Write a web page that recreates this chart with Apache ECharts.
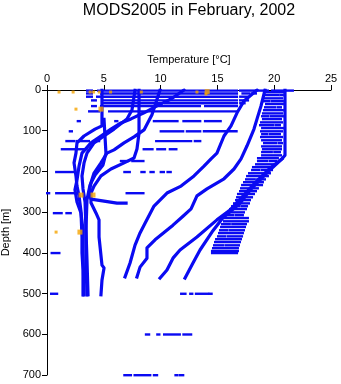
<!DOCTYPE html>
<html>
<head>
<meta charset="utf-8">
<script src="https://cdn.jsdelivr.net/npm/echarts@6/dist/echarts.min.js"></script>
<style>
  html, body { margin: 0; padding: 0; background: #fff; }
  #chart { width: 341px; height: 384px; }
</style>
</head>
<body>
<div id="chart"></div>
<script>
// Axis ticks
const tempTicks = [0, 5, 10, 15, 20, 25];
const depthTicks = [0, 100, 200, 300, 400, 500, 600, 700];

// Continuous profiles: [temperature °C, depth m]
const profileWarmA = [[20.95,0],[20.95,160],[20.69,169],[19.63,192],[18.31,228],[17.17,263],[16.11,295],[14.96,319],[13.20,361],[11.71,393],[11.09,413],[10.56,442],[9.95,462]];
const profileWarmB = [[20.69,169],[19.45,201],[17.87,246],[16.99,278],[15.49,314],[14.52,349],[13.47,393],[12.85,425],[12.15,462]];
const profileMidA = [[18.49,0],[17.34,27],[16.73,56],[16.20,88],[15.58,113],[14.96,155],[14.44,169],[13.82,187],[12.94,211],[11.80,236],[10.56,253],[9.42,285],[8.63,327],[8.19,351],[7.75,381],[7.31,425],[6.87,459]];
const profileMidB = [[19.19,0],[18.84,39],[18.49,71],[18.22,96],[17.61,137],[17.08,169],[16.46,194],[15.58,218],[14.08,243],[13.20,260],[12.68,292],[11.97,310],[11.09,332],[9.51,368],[8.80,388],[8.80,413],[8.19,435],[7.92,459]];
const profileCold1 = [[4.84,0],[4.84,88],[4.23,96],[3.26,113],[2.64,130],[2.55,155],[2.38,179],[2.55,211],[2.64,236],[2.82,260],[2.99,297],[3.08,361],[3.08,400],[3.17,442],[3.17,503]];
const profileCold2 = [[12.06,0],[10.92,22],[9.68,39],[8.54,56],[7.39,71],[6.51,81],[5.63,96],[4.75,113],[3.87,130],[3.08,155],[2.82,187],[2.64,221],[2.46,245],[2.64,275],[2.99,302],[3.17,344],[3.17,400],[3.26,503]];
const profileCold3 = [[7.75,0],[7.48,49],[7.04,71],[5.90,96],[5.02,113],[4.14,130],[3.52,155],[3.26,179],[3.08,211],[3.17,243],[3.35,275],[3.43,344],[3.43,418],[3.52,503]];
const profileCold4 = [[9.95,0],[9.24,61],[8.54,98],[7.66,115],[6.78,130],[5.90,147],[5.28,155],[4.75,179],[4.14,204],[3.87,228],[3.70,253],[3.87,268],[5.02,273],[6.16,278],[6.96,278]];
const profileCold5 = [[8.10,0],[8.10,106],[7.92,145],[7.66,167],[6.78,179],[5.63,194],[4.75,211],[4.14,236],[3.87,253],[3.87,277],[4.31,302],[4.58,319],[4.58,361],[4.84,430],[5.02,437],[4.84,467],[4.75,503]];
const profileCold6 = [[5.02,72],[5.19,155],[4.93,184],[4.23,209],[3.79,233],[3.52,270],[3.43,344],[3.52,418],[3.61,503]];

// Sparse casts drawn as dashes: [depth m, from °C, to °C]
const warmBandRows = [
  [5,19.10,20.86],[12,19.28,20.40],[12,20.55,20.77],[20,19.19,20.69],[27,19.01,19.60],[27,19.80,20.77],[34,19.28,20.77],
  [42,19.19,20.10],[42,20.30,20.60],[49,19.10,20.77],[57,19.01,20.69],[64,18.93,19.50],[64,19.70,20.77],[71,19.01,20.60],
  [79,18.84,20.69],[86,18.75,19.90],[86,20.10,20.51],[93,18.93,20.77],[101,18.84,20.69],[108,18.93,19.40],[108,19.60,20.51],
  [115,18.84,20.69],[123,18.93,20.60],[130,19.10,20.20],[130,20.40,20.69],[138,18.93,20.60],[145,19.01,20.60],
  [152,18.93,19.80],[152,20.00,20.51],[160,18.93,20.60],[167,18.57,20.33],[174,18.57,19.40],[174,19.60,20.16],[182,18.40,20.07],
  [189,18.13,19.81],[196,18.05,18.70],[196,18.90,19.81],[204,17.78,19.63],[211,17.61,19.45],[219,17.52,18.30],[219,18.50,19.19],
  [226,17.34,19.01],[233,17.17,18.93],[241,17.08,17.80],[241,18.00,18.57],[248,16.99,18.40],[255,16.81,18.22],
  [263,16.73,17.30],[263,17.50,18.05],[270,16.64,17.87],[278,16.46,17.78],[285,16.29,16.90],[285,17.10,17.61],[292,16.11,17.52],
  [300,15.93,17.34],[307,15.76,16.40],[307,16.60,17.25],[314,15.67,17.69],[322,15.58,17.69],[329,15.40,16.10],[329,16.30,17.52],
  [336,15.32,17.43],[344,15.23,15.90],[344,16.10,17.34],[351,15.14,17.25],[359,15.05,15.70],[359,15.90,17.17],[366,14.88,17.08],
  [373,14.79,16.99],[381,14.70,15.50],[381,15.70,16.90],[388,14.61,16.81],[395,14.52,16.81],[400,14.52,16.73]
];
const surveyRows = [
  [1,3.52,3.96],[1,4.49,16.73],[1,16.99,19.45],[1,19.81,21.65],
  [8,3.52,3.96],[8,4.75,16.73],[8,17.20,17.80],[8,18.00,18.40],
  [16,3.52,3.96],[16,4.40,4.67],[16,5.02,16.73],[16,17.00,17.60],
  [25,3.96,4.31],[25,5.02,16.73],[25,16.99,17.70],
  [32,5.02,9.95],[32,10.39,16.73],[32,17.00,17.40],
  [39,3.96,4.31],[39,4.75,13.47],[39,13.91,16.73],
  [52,3.70,4.58],[52,5.46,16.73],
  [76,2.70,2.90],[76,6.00,6.20],[76,9.40,11.50],[76,12.00,13.50],[76,13.90,15.30],
  [101,2.00,2.20],[101,10.00,12.00],[101,12.30,13.50],[101,13.80,16.70],
  [125,1.70,2.40],[125,2.60,3.70],[125,4.10,4.60],[125,9.60,12.70],[125,13.00,13.50],
  [145,1.30,3.50],[145,8.50,9.30],[145,9.70,10.40],[145,10.80,11.40],
  [174,6.50,7.10],[174,7.50,8.50],
  [201,0.80,2.40],[201,6.80,7.30],[201,8.30,8.60],[201,9.10,9.40],[201,10.00,10.30],[201,10.60,10.90],
  [253,0.00,0.20],[253,0.80,2.60],[253,7.00,8.50],
  [302,0.60,1.30],[302,1.70,2.10],
  [400,0.40,1.10],
  [500,0.35,0.90],[500,11.80,12.20],[500,12.60,12.80],[500,13.10,14.20],[500,14.30,14.50],
  [600,8.70,9.00],[600,9.70,9.90],[600,10.30,11.70],[600,12.00,12.70],
  [700,6.80,7.40],[700,7.70,9.10],[700,9.40,9.70],[700,11.30,11.50],[700,11.70,12.00]
];

// Flagged observations: [temperature °C, depth m]
const flaggedSmall = [[1.06,5],[2.3,5],[3.8,5],[4.1,5],[4.6,5],[5.6,5],[8.3,5],[2.55,47],[13.2,5],[14.0,10],[0.8,349]];
const flaggedLarge = [[4.75,47],[14.1,4],[3.0,258],[4.05,258],[2.9,349]];

const BLUE = '#0a0af2';
const ORANGE = '#f5a400';
const FONT = 'Liberation Sans, Arial, sans-serif';

function dashItem(params, api) {
  const a = api.coord([api.value(1), api.value(0)]);
  const b = api.coord([api.value(2), api.value(0)]);
  return {
    type: 'rect',
    shape: { x: a[0] - 1, y: a[1] - 1, width: Math.max(b[0] - a[0], 1) + 2, height: 2.4 },
    style: { fill: BLUE }
  };
}

function profileSeries(data) {
  return {
    type: 'line', data: data, showSymbol: false, symbol: 'none',
    lineStyle: { color: BLUE, width: 3.2, join: 'round', cap: 'square' },
    animation: false, silent: true, z: 3
  };
}

const chart = echarts.init(document.getElementById('chart'), null, { renderer: 'canvas' });
chart.setOption({
  backgroundColor: '#ffffff',
  animation: false,
  title: {
    text: 'MODS2005 in February, 2002',
    left: 184, top: -2, textAlign: 'center',
    textStyle: { fontFamily: FONT, fontSize: 16, fontWeight: 'normal', color: '#000' }
  },
  grid: { left: 47, top: 90, width: 284, height: 285, containLabel: false, outerBoundsMode: 'none' },
  xAxis: {
    type: 'value', position: 'top', min: 0, max: 25, interval: 5,
    name: 'Temperature [°C]', nameLocation: 'middle', nameGap: 25,
    nameTextStyle: { fontFamily: FONT, fontSize: 11, color: '#000' },
    axisLine: { show: true, onZero: false, lineStyle: { color: '#000', width: 1 } },
    axisTick: { show: true, inside: false, length: 5, lineStyle: { color: '#000' } },
    axisLabel: { fontFamily: FONT, fontSize: 11, color: '#000', margin: 6,
      formatter: v => tempTicks.includes(v) ? String(v) : '' },
    splitLine: { show: false }
  },
  yAxis: {
    type: 'value', inverse: true, min: 0, max: 700, interval: 100,
    name: 'Depth [m]', nameLocation: 'middle', nameGap: 32, nameRotate: 90,
    nameTextStyle: { fontFamily: FONT, fontSize: 11, color: '#000' },
    axisLine: { show: true, onZero: false, lineStyle: { color: '#000', width: 1 } },
    axisTick: { show: true, inside: false, length: 5, lineStyle: { color: '#000' } },
    axisLabel: { fontFamily: FONT, fontSize: 11, color: '#000', margin: 6,
      formatter: v => depthTicks.includes(v) ? String(v) : '' },
    splitLine: { show: false }
  },
  series: [
    { type: 'custom', renderItem: dashItem, data: warmBandRows, encode: { x: [1, 2], y: 0 }, animation: false, silent: true, z: 2 },
    { type: 'custom', renderItem: dashItem, data: surveyRows, encode: { x: [1, 2], y: 0 }, animation: false, silent: true, z: 2 },
    profileSeries(profileWarmA),
    profileSeries(profileWarmB),
    profileSeries(profileMidA),
    profileSeries(profileMidB),
    profileSeries(profileCold1),
    profileSeries(profileCold2),
    profileSeries(profileCold3),
    profileSeries(profileCold4),
    profileSeries(profileCold5),
    profileSeries(profileCold6),
    { type: 'scatter', data: flaggedSmall, symbol: 'rect', symbolSize: 3, itemStyle: { color: ORANGE }, animation: false, silent: true, z: 5 },
    { type: 'scatter', data: flaggedLarge, symbol: 'rect', symbolSize: 5, itemStyle: { color: ORANGE }, animation: false, silent: true, z: 5 }
  ]
});
</script>
</body>
</html>
